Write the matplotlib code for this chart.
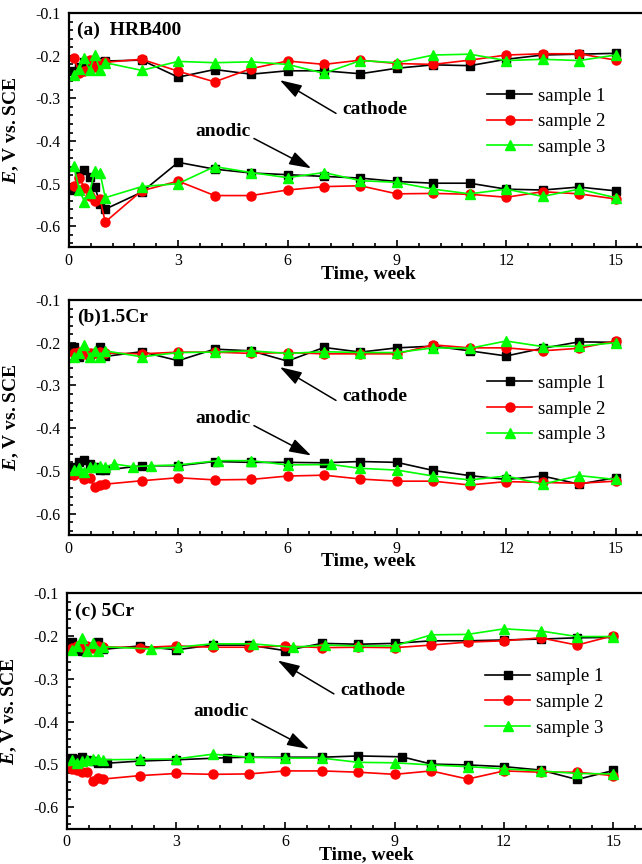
import matplotlib
matplotlib.use('Agg')
import matplotlib.pyplot as plt
from matplotlib.ticker import MultipleLocator

plt.rcParams['font.family'] = ['Liberation Serif', 'DejaVu Serif']
plt.rcParams['mathtext.fontset'] = 'custom'
plt.rcParams['mathtext.it'] = 'Liberation Serif:italic:bold'

# time axis (weeks): daily readings in week 1, then weekly
t_std = [0.14, 0.29, 0.43, 0.57, 0.71, 0.86, 1.0,
         2, 3, 4, 5, 6, 7, 8, 9, 10, 11, 12, 13, 14, 15]

# (a) HRB400
a_s1_cat = [-0.235, -0.225, -0.215, -0.22, -0.215, -0.215, -0.212, -0.21, -0.25, -0.232, -0.243,
            -0.235, -0.235, -0.242, -0.229, -0.221, -0.223, -0.208, -0.198, -0.196, -0.194]
a_s2_cat = [-0.205, -0.24, -0.235, -0.21, -0.225, -0.22, -0.215, -0.208, -0.236, -0.261, -0.230,
            -0.212, -0.22, -0.21, -0.218, -0.22, -0.21, -0.198, -0.195, -0.195, -0.21]
a_s3_cat = [-0.245, -0.23, -0.205, -0.234, -0.197, -0.234, -0.216, -0.234, -0.213, -0.216, -0.214,
            -0.22, -0.241, -0.211, -0.216, -0.198, -0.196, -0.211, -0.208, -0.211, -0.198]
a_s1_ano = [-0.516, -0.478, -0.467, -0.485, -0.507, -0.547, -0.56, -0.52, -0.45, -0.466, -0.475,
            -0.479, -0.483, -0.487, -0.495, -0.499, -0.499, -0.513, -0.515, -0.508, -0.517]
a_s2_ano = [-0.505, -0.487, -0.51, -0.53, -0.54, -0.537, -0.59, -0.517, -0.494, -0.528, -0.528,
            -0.515, -0.507, -0.505, -0.524, -0.523, -0.525, -0.532, -0.519, -0.524, -0.536]
a_s3_ano = [-0.458, -0.516, -0.542, -0.522, -0.471, -0.476, -0.533, -0.507, -0.5, -0.46, -0.474,
            -0.486, -0.474, -0.493, -0.497, -0.513, -0.524, -0.513, -0.53, -0.513, -0.533]

# (b) 1.5Cr
b_s1_cat = [-0.21, -0.233, -0.225, -0.228, -0.225, -0.211, -0.232, -0.221, -0.242, -0.215, -0.219,
            -0.243, -0.211, -0.222, -0.212, -0.208, -0.219, -0.231, -0.213, -0.198, -0.199]
b_s2_cat = [-0.225, -0.222, -0.226, -0.224, -0.225, -0.222, -0.224, -0.226, -0.222, -0.222, -0.225,
            -0.223, -0.226, -0.226, -0.226, -0.205, -0.212, -0.212, -0.219, -0.213, -0.196]
b_s3_cat = [-0.233, -0.225, -0.205, -0.233, -0.219, -0.233, -0.219, -0.233, -0.223, -0.222, -0.219,
            -0.225, -0.221, -0.223, -0.223, -0.212, -0.213, -0.196, -0.209, -0.208, -0.2]
b_s1_ano = [-0.492, -0.478, -0.474, -0.485, -0.49, -0.498, -0.498, -0.488, -0.488, -0.478, -0.48,
            -0.48, -0.481, -0.478, -0.48, -0.499, -0.511, -0.52, -0.512, -0.531, -0.516]
b_s2_ano = [-0.509, -0.506, -0.52, -0.517, -0.538, -0.533, -0.531, -0.523, -0.516, -0.521, -0.52,
            -0.512, -0.51, -0.519, -0.524, -0.524, -0.533, -0.525, -0.527, -0.529, -0.524]
b_t_s3_ano = [0.14, 0.29, 0.43, 0.57, 0.71, 0.86, 1.0, 1.25, 1.75, 2.25, 3, 4.1,
              5, 6, 7.2, 8, 9, 10, 11, 12, 13, 14, 15]
b_s3_ano = [-0.497, -0.494, -0.502, -0.49, -0.492, -0.488, -0.49, -0.484, -0.49, -0.488, -0.486, -0.476,
            -0.476, -0.486, -0.485, -0.494, -0.498, -0.512, -0.521, -0.512, -0.531, -0.511, -0.52]

# (c) 5Cr
c_s1_cat = [-0.213, -0.232, -0.235, -0.228, -0.225, -0.213, -0.231, -0.223, -0.232, -0.221, -0.221,
            -0.234, -0.217, -0.219, -0.217, -0.211, -0.211, -0.209, -0.207, -0.204, -0.203]
c_s2_cat = [-0.228, -0.222, -0.226, -0.224, -0.227, -0.223, -0.225, -0.227, -0.223, -0.226, -0.226,
            -0.223, -0.227, -0.226, -0.227, -0.221, -0.214, -0.211, -0.204, -0.221, -0.199]
c_t_s3_cat = [0.14, 0.29, 0.43, 0.57, 0.71, 0.86, 1.0, 2.3, 3.05, 4, 5.1,
              6.2, 7.1, 8, 9, 10, 11, 12, 13, 14, 15]
c_s3_cat = [-0.232, -0.223, -0.205, -0.235, -0.217, -0.235, -0.225, -0.23, -0.226, -0.218, -0.218,
            -0.226, -0.221, -0.223, -0.223, -0.197, -0.196, -0.183, -0.188, -0.201, -0.201]
c_t_s1_ano = [0.14, 0.29, 0.43, 0.57, 0.71, 0.86, 1.1, 2, 3, 4.4, 5,
              6, 7, 8, 9.2, 10, 11, 12, 13, 14, 15]
c_s1_ano = [-0.485, -0.488, -0.482, -0.49, -0.492, -0.496, -0.497, -0.492, -0.489, -0.484, -0.483,
            -0.483, -0.483, -0.48, -0.482, -0.499, -0.501, -0.505, -0.513, -0.535, -0.514]
c_s2_ano = [-0.51, -0.514, -0.518, -0.518, -0.538, -0.532, -0.534, -0.526, -0.521, -0.523, -0.522,
            -0.515, -0.515, -0.518, -0.523, -0.515, -0.534, -0.515, -0.518, -0.518, -0.526]
c_s3_ano = [-0.489, -0.497, -0.492, -0.489, -0.488, -0.488, -0.489, -0.488, -0.487, -0.476, -0.483,
            -0.485, -0.485, -0.495, -0.496, -0.501, -0.505, -0.51, -0.515, -0.521, -0.522]

panel_titles = ['(a)  HRB400', '(b)1.5Cr', '(c) 5Cr']
sample_labels = ['sample 1', 'sample 2', 'sample 3']
colors = ['black', '#ff0000', '#00ff00']
markers = ['s', 'o', '^']
msizes = [5.5, 6.5, 6.5]

panels = [
    [(t_std, a_s1_cat, t_std, a_s1_ano), (t_std, a_s2_cat, t_std, a_s2_ano), (t_std, a_s3_cat, t_std, a_s3_ano)],
    [(t_std, b_s1_cat, t_std, b_s1_ano), (t_std, b_s2_cat, t_std, b_s2_ano), (t_std, b_s3_cat, b_t_s3_ano, b_s3_ano)],
    [(t_std, c_s1_cat, c_t_s1_ano, c_s1_ano), (t_std, c_s2_cat, t_std, c_s2_ano), (c_t_s3_cat, c_s3_cat, t_std, c_s3_ano)],
]

W, H = 642, 864
fig = plt.figure(figsize=(W / 100, H / 100), dpi=100)
# axes boxes in pixels: left, top, bottom (right spine runs past the figure edge)
boxes = [(68.8, 13.3, 247.5), (68.8, 300, 535), (66.7, 593.3, 828.7)]
px_per_week = 36.45
arrow = dict(arrowstyle='-|>,head_length=0.9,head_width=0.28', color='black', lw=1.1,
             mutation_scale=15, shrinkA=0, shrinkB=0)

for i, (left, top, bottom) in enumerate(boxes):
    ax = fig.add_axes([left / W, 1 - bottom / H, 16 * px_per_week / W, (bottom - top) / H])
    for j, (tc, yc, ta, ya) in enumerate(panels[i]):
        kw = dict(color=colors[j], marker=markers[j], ms=msizes[j], lw=1.2, mec=colors[j])
        ax.plot(tc, yc, label=sample_labels[j], **kw)
        ax.plot(ta, ya, **kw)

    ax.set_xlim(0, 16)
    ax.set_ylim(-0.65, -0.1)
    ax.set_xticks([0, 3, 6, 9, 12, 15])
    ax.xaxis.set_minor_locator(MultipleLocator(0.6))
    ax.set_yticks([-0.6, -0.5, -0.4, -0.3, -0.2, -0.1])
    ax.set_yticklabels(['-0.6', '-0.5', '-0.4', '-0.3', '-0.2', '-0.1'])
    ax.yaxis.set_minor_locator(MultipleLocator(0.02))
    ax.tick_params(which='both', direction='in', top=False, right=False, labelsize=11.5, width=1.2)
    ax.tick_params(which='major', length=5, pad=4)
    ax.tick_params(which='minor', length=3)
    ax.tick_params(axis='y', pad=6)
    for side in ['left', 'bottom', 'top']:
        ax.spines[side].set_linewidth(1.6)
    ax.spines['right'].set_visible(False)

    ax.set_xlabel('Time, week', fontsize=14, fontweight='bold')
    ax.xaxis.set_label_coords(0.513, -0.11)
    ax.xaxis.label.set_va('center')
    ax.set_ylabel(r'$E$, V vs. SCE', fontsize=14, fontweight='bold')
    ax.yaxis.set_label_coords(-0.082, 0.5)

    ax.text(0.22, -0.141, panel_titles[i], fontsize=14, fontweight='bold', va='center', ha='left')
    ax.annotate('', xy=(5.79, -0.257), xytext=(7.33, -0.335), arrowprops=arrow)
    ax.text(8.39, -0.326, 'cathode', fontsize=14, fontweight='bold', ha='center', va='center')
    ax.annotate('', xy=(6.65, -0.464), xytext=(5.08, -0.394), arrowprops=arrow)
    ax.text(4.24, -0.377, 'anodic', fontsize=14, fontweight='bold', ha='center', va='center')

    ax.legend(loc='center left', bbox_to_anchor=(11.48 / 16, (0.65 - 0.355) / 0.55),
              frameon=False, fontsize=13.5, handlelength=2.4, handletextpad=0.3,
              labelspacing=0.45, borderpad=0, borderaxespad=0)

fig.savefig('out.png', dpi=100)
